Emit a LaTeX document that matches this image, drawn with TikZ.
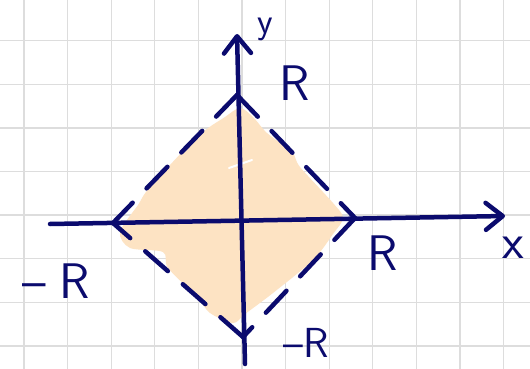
\documentclass[tikz,border=0pt]{standalone}
\usepackage{tikz}
\usetikzlibrary{arrows.meta}
\usepackage{xcolor}
\definecolor{inknavy}{HTML}{0B0B6E}
\definecolor{gridgray}{HTML}{DDDDDD}
\definecolor{peach}{HTML}{FDE3C3}
\tikzset{
  gridline/.style={line width=1.3pt, draw=gridgray},
  axis/.style={line width=4.5pt, draw=inknavy, line cap=round,
    -{Straight Barb[length=17pt, width=27pt, round]}},
  edge/.style={line width=4.5pt, draw=inknavy, line cap=round, dash pattern=on 30pt off 20pt},
  region/.style={fill=peach, draw=none},
  handtext/.style={text=inknavy, font=\sffamily\fontsize{50}{50}\selectfont, inner sep=0pt},
}
\begin{document}
\begin{tikzpicture}[x=1pt, y=-1pt]
  \useasboundingbox[fill=white] (0,0) rectangle (530,369);
  % Raster
  \foreach \x in {24,67.6,...,504}{
    \draw[gridline] (\x,0) -- (\x,369);
  }
  \foreach \y in {40.7,84.3,...,350}{
    \draw[gridline] (0,\y) -- (530,\y);
  }
  % Ecken des Quadrats
  \coordinate (top) at (237,95);
  \coordinate (right) at (355,218);
  \coordinate (bottom) at (243,337);
  \coordinate (left) at (113,223);
  % Flaeche |x|+|y| <= R
  \fill[region] plot[smooth cycle, tension=0.5] coordinates {
    (240,108) (225,117) (197,137) (150,187) (138,205) (120,232) (130,248)
    (163,252) (168,268) (197,297) (210,313) (233,323) (245,314) (273,293)
    (313,260) (333,234) (343,218) (333,203) (300,167) (292,152) (267,133) (253,117)};
  \draw[white, line width=2pt, line cap=round] (229,168) -- (252,160);
  % Achsen
  \coordinate (xstart) at (50,224);
  \coordinate (xend) at (505,216);
  \coordinate (ystart) at (245,364);
  \coordinate (yend) at (237,34);
  \draw[axis] (xstart) -- (xend);
  \draw[axis] (ystart) -- (yend);
  % Rand gestrichelt
  \draw[edge] (top) -- (left);
  \draw[edge] (top) -- (right);
  \draw[edge] (right) -- (bottom);
  \draw[edge] (bottom) -- (left);
  % Beschriftung
  \node[handtext, font=\sffamily\fontsize{36}{36}\selectfont] (ylabel) at (265,29) {y};
  \node[handtext] (xlabel) at (513,248) {x};
  \node[handtext] (rtop) at (295,83) {R};
  \node[handtext] (rright) at (383,253) {R};
  \node[handtext] (rleft) at (56,281) {--\kern14pt R};
  \node[handtext, font=\sffamily\fontsize{42}{42}\selectfont] (rbottom) at (306,343) {--R};
\end{tikzpicture}
\end{document}
